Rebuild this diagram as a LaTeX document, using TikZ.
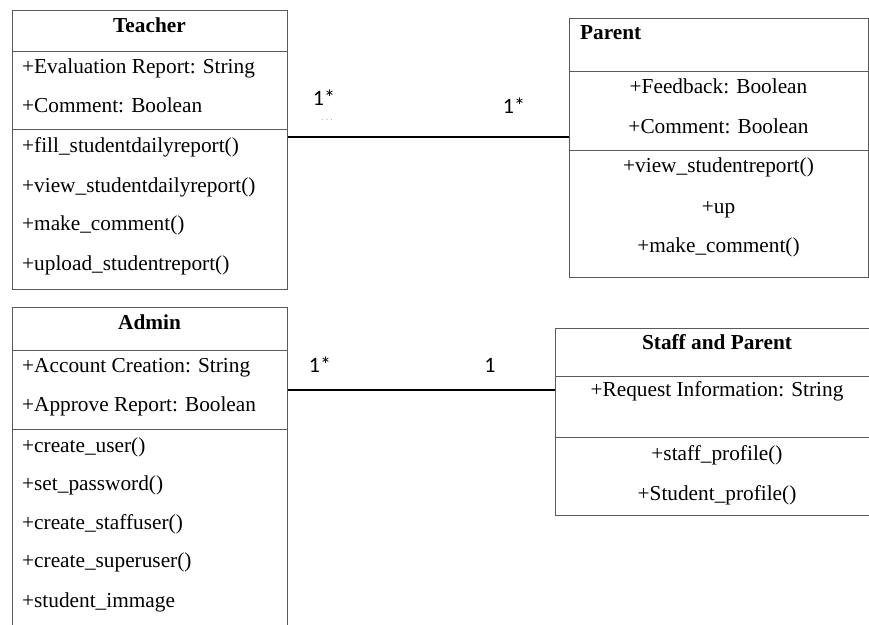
\documentclass[tikz,border=0pt]{standalone}
\usepackage{fontspec}
\setmainfont{Liberation Serif}
\newfontfamily\labelfont{Carlito}
\definecolor{boxgray}{HTML}{5A5A5A}
\begin{document}
\begin{tikzpicture}[x=1pt,y=-1pt,
 box/.style={draw=boxgray, line width=1pt, anchor=north west, inner sep=0pt},
 sepline/.style={draw=boxgray, line width=1pt},
 txt/.style={font=\fontsize{21.3}{24}\selectfont, inner sep=0pt},
 ttl/.style={font=\fontsize{21.3}{24}\selectfont\bfseries, inner sep=0pt},
 mult/.style={font=\labelfont\fontsize{22}{24}\selectfont, inner sep=0pt, anchor=base},
 assoc/.style={draw=black, line width=1.1pt}]
\useasboundingbox (0,0) rectangle (869,624);
\fill[white] (0,0) rectangle (869,624);
\clip (0,0) rectangle (869,624);

% ---------- Teacher ----------
\node[box, minimum width=275pt, minimum height=279pt] (teacher) at (12,10) {};
\draw[sepline] (teacher.west |- 0,51) -- (teacher.east |- 0,51);
\draw[sepline] (teacher.west |- 0,129) -- (teacher.east |- 0,129);
\node[ttl, anchor=base] (teachert) at (149.5,32) {Teacher};
\node[txt, anchor=base west] (ta1) at (22,73) {+Evaluation Report: String};
\node[txt, anchor=base west] (ta2) at (22,112) {+Comment: Boolean};
\node[txt, anchor=base west] (tm1) at (22,152) {+fill\_studentdailyreport()};
\node[txt, anchor=base west] (tm2) at (22,192) {+view\_studentdailyreport()};
\node[txt, anchor=base west] (tm3) at (22,230) {+make\_comment()};
\node[txt, anchor=base west] (tm4) at (22,270) {+upload\_studentreport()};

% ---------- Parent ----------
\node[box, minimum width=299pt, minimum height=259pt] (parent) at (569,18) {};
\draw[sepline] (parent.west |- 0,71) -- (parent.east |- 0,71);
\draw[sepline] (parent.west |- 0,150) -- (parent.east |- 0,150);
\node[ttl, anchor=base west] (parentt) at (580,39) {Parent};
\node[txt, anchor=base] (pa1) at (718.5,93) {+Feedback: Boolean};
\node[txt, anchor=base] (pa2) at (718.5,133) {+Comment: Boolean};
\node[txt, anchor=base] (pm1) at (718.5,172) {+view\_studentreport()};
\node[txt, anchor=base] (pm2) at (718.5,213) {+up};
\node[txt, anchor=base] (pm3) at (718.5,252) {+make\_comment()};

% ---------- Admin ----------
\node[box, minimum width=275pt, minimum height=340pt] (admin) at (12,307) {};
\draw[sepline] (admin.west |- 0,350) -- (admin.east |- 0,350);
\draw[sepline] (admin.west |- 0,429) -- (admin.east |- 0,429);
\node[ttl, anchor=base] (admint) at (149.5,329) {Admin};
\node[txt, anchor=base west] (aa1) at (22,372) {+Account Creation: String};
\node[txt, anchor=base west] (aa2) at (22,411) {+Approve Report: Boolean};
\node[txt, anchor=base west] (am1) at (22,452) {+create\_user()};
\node[txt, anchor=base west] (am2) at (22,490) {+set\_password()};
\node[txt, anchor=base west] (am3) at (22,529) {+create\_staffuser()};
\node[txt, anchor=base west] (am4) at (22,567) {+create\_superuser()};
\node[txt, anchor=base west] (am5) at (22,607) {+student\_immage};

% ---------- Staff and Parent ----------
\node[box, minimum width=324pt, minimum height=187pt] (staff) at (555,328) {};
\draw[sepline] (staff.west |- 0,376) -- (staff.east |- 0,376);
\draw[sepline] (staff.west |- 0,437) -- (staff.east |- 0,437);
\node[ttl, anchor=base] (stafft) at (717,349) {Staff and Parent};
\node[txt, anchor=base] (sa1) at (717,396) {+Request Information: String};
\node[txt, anchor=base] (sm1) at (717,460) {+staff\_profile()};
\node[txt, anchor=base] (sm2) at (717,500) {+Student\_profile()};

% ---------- Associations ----------
\draw[assoc] (teacher.east |- 0,137) -- (parent.west |- 0,137);
\node[mult] (m1) at (324,105) {1*};
\node[inner sep=0pt, text=gray, font=\fontsize{8}{9}\selectfont] (dots) at (327,120) {. . .};
\node[mult] (m2) at (514,113) {1*};

\draw[assoc] (admin.east |- 0,390) -- (staff.west |- 0,390);
\node[mult] (m3) at (320,372) {1*};
\node[mult] (m4) at (490,372) {1};
\end{tikzpicture}
\end{document}
